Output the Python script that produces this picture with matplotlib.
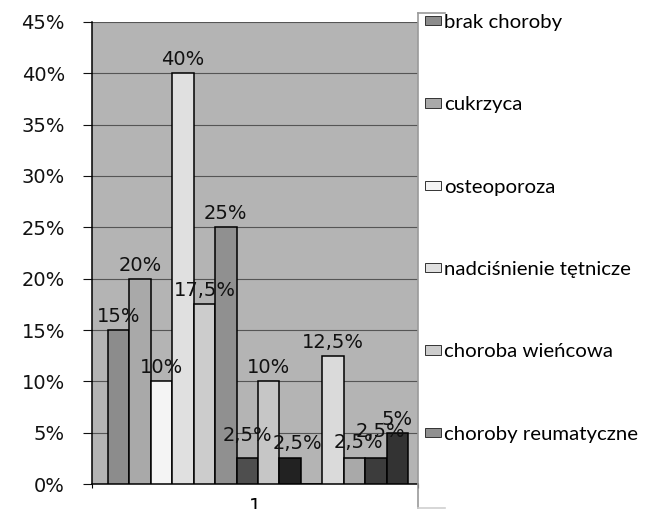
import numpy as np
import matplotlib
matplotlib.use('Agg')
import matplotlib.pyplot as plt
from matplotlib.patches import Patch
from matplotlib.lines import Line2D

# dane
values = [15, 20, 10, 40, 17.5, 25, 2.5, 10, 2.5, 0, 12.5, 2.5, 2.5, 5]
value_labels = ['15%', '20%', '10%', '40%', '17,5%', '25%', '2,5%', '10%', '2,5%', '',
                '12,5%', '2,5%', '2,5%', '5%']
legend_names = ['brak choroby', 'cukrzyca', 'osteoporoza', 'nadciśnienie tętnicze',
                'choroba wieńcowa', 'choroby reumatyczne']
category = ['1']
ytick_labels = ['0%', '5%', '10%', '15%', '20%', '25%', '30%', '35%', '40%', '45%']

# kolory / przesuniecia etykiet (px)
colors = ['#8c8c8c', '#a9a9a9', '#f4f4f4', '#e0e0e0', '#cccccc', '#909090', '#4e4e4e',
          '#c6c6c6', '#222222', '#b4b4b4', '#dadada', '#a9a9a9', '#3c3c3c', '#333333']
lab_dx = [0, 0, 0, 0, 0, 0, 0, 0, 7, 0, 0, 4, 5, 0]
lab_dy = [8, 8, 8, 8, 8, 8, 17, 8, 9, 0, 8, 10, 21, 8]

W, H = 649, 509
fig = plt.figure(figsize=(W / 100, H / 100), dpi=100)
fig.patch.set_facecolor('white')
ax = fig.add_axes([92 / W, 25 / H, 326 / W, 462 / H])
ax.set_facecolor('#b4b4b4')

x = np.arange(len(values))
ax.bar(x, np.array(values) / 100, width=1.0, color=colors, edgecolor='black',
       linewidth=1.1, zorder=3)

ax.set_xlim(-1.25, 13.97)
ax.set_ylim(0, 0.45)
ax.set_yticks(np.arange(0, 0.4501, 0.05))
ax.set_yticklabels(ytick_labels)
ax.yaxis.grid(True, color='#555555', linewidth=0.8)
ax.set_axisbelow(True)

for s in ['top', 'right']:
    ax.spines[s].set_visible(False)
for s in ['left', 'bottom']:
    ax.spines[s].set_color('black')
    ax.spines[s].set_linewidth(1.1)

fs = 14
ax.tick_params(axis='y', length=6.5, width=0.8, pad=13, labelsize=fs, colors='#111111')
xl = ax.get_xlim()
ax.set_xticks([np.mean(xl)])
ax.set_xticklabels(category)
ax.tick_params(axis='x', which='major', length=0, pad=9, labelsize=fs)
ax.set_xticks(list(xl), minor=True)
ax.tick_params(axis='x', which='minor', length=3, width=0.8)

for i, (v, lab) in enumerate(zip(values, value_labels)):
    if lab == '':
        continue
    ax.annotate(lab, xy=(i, v / 100), xytext=(lab_dx[i] * 0.72, lab_dy[i] * 0.72),
                textcoords='offset points', ha='center', va='baseline',
                fontsize=fs, color='#111111', zorder=5, annotation_clip=False)

# ramka legendy (lewa, gorna, dolna krawedz)
bx0, bx1, by0, by1 = 418 / W, 445 / W, 1 - 508 / H, 1 - 13 / H
for xs, ys, c in [([bx0, bx0], [by0, by1], '#9a9a9a'),
                  ([bx0, bx1], [by1, by1], '#9a9a9a'),
                  ([bx0, bx1], [by0, by0], '#d0d0d0')]:
    fig.add_artist(Line2D(xs, ys, transform=fig.transFigure, color=c, linewidth=1.2))

handles = [Patch(facecolor=c, edgecolor='#333333', linewidth=0.7) for c in colors[:6]]
fig.legend(handles, legend_names, loc='upper left', bbox_to_anchor=(425 / W, 1 - 14 / H),
           frameon=False, prop={'family': ['Lato', 'DejaVu Sans'], 'size': 14.7},
           handlelength=0.8, handleheight=0.35, handletextpad=0.15,
           labelspacing=3.2, borderpad=0, borderaxespad=0)

plt.savefig('out.png', dpi=100)
